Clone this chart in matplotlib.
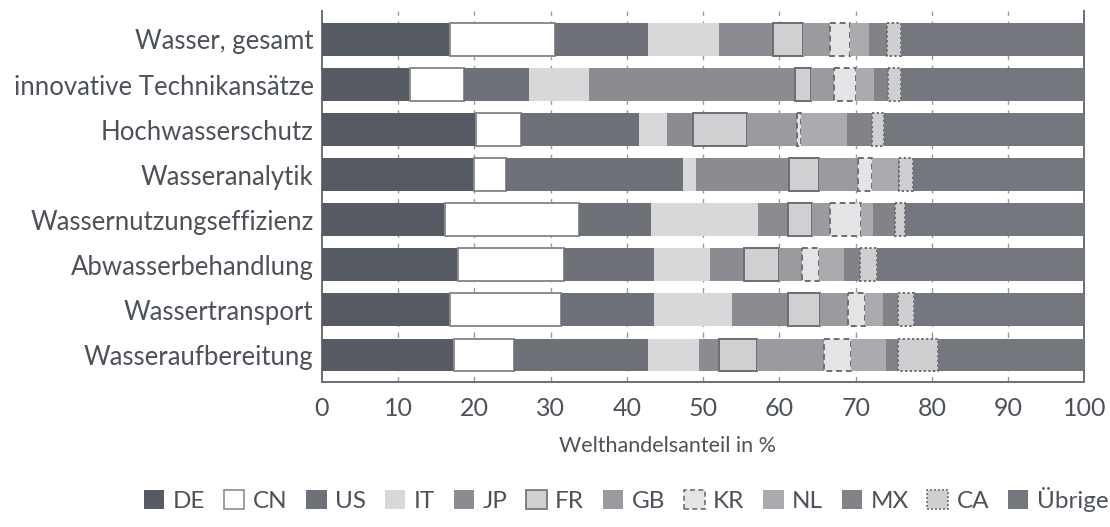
import matplotlib
matplotlib.use("Agg")
import matplotlib.pyplot as plt
from matplotlib.patches import Patch
import numpy as np

plt.rcParams['font.family'] = ['Lato', 'DejaVu Sans']

categories = ["Wasser, gesamt", "innovative Technikansätze", "Hochwasserschutz",
              "Wasseranalytik", "Wassernutzungseffizienz", "Abwasserbehandlung",
              "Wassertransport", "Wasseraufbereitung"]
countries = ["DE", "CN", "US", "IT", "JP", "FR", "GB", "KR", "NL", "MX", "CA", "Übrige"]

# cumulative end positions (%) per country
ends = {
    "Wasser, gesamt":            [16.8, 30.6, 42.7, 52.1, 59.1, 63.1, 66.6, 69.2, 71.8, 74.1, 75.9, 100],
    "innovative Technikansätze": [11.6, 18.6, 27.1, 35.0, 62.0, 64.2, 67.1, 70.0, 72.4, 74.2, 76.0, 100],
    "Hochwasserschutz":          [20.2, 26.1, 41.6, 45.3, 48.6, 55.7, 62.3, 62.8, 68.9, 72.1, 73.7, 100],
    "Wasseranalytik":            [19.9, 24.1, 47.4, 49.0, 61.2, 65.2, 70.3, 72.1, 75.5, 75.7, 77.5, 100],
    "Wassernutzungseffizienz":   [16.1, 33.7, 43.2, 57.2, 61.1, 64.3, 66.6, 70.7, 72.3, 75.2, 76.5, 100],
    "Abwasserbehandlung":        [17.8, 31.8, 43.6, 50.9, 55.4, 60.0, 62.9, 65.2, 68.5, 70.5, 72.8, 100],
    "Wassertransport":           [16.8, 31.4, 43.6, 53.8, 61.1, 65.3, 69.0, 71.2, 73.6, 75.6, 77.6, 100],
    "Wasseraufbereitung":        [17.3, 25.2, 42.8, 49.5, 52.1, 57.0, 65.8, 69.4, 74.0, 75.5, 80.8, 100],
}

faces = ["#555a63", "#ffffff", "#6f7178", "#d8d8da", "#8b8b92", "#d0d0d2",
         "#9a9a9f", "#e4e4e6", "#ababaf", "#818389", "#cfcfd1", "#75777f"]
edges = [None, "#8a8c90", None, None, None, "#6b6e73", None, "#6b6e73", None, None, "#6b6e73", None]
lstyles = ["solid", "solid", "solid", "solid", "solid", "solid", "solid",
           (0, (3, 2)), "solid", "solid", (0, (1.2, 1.2)), "solid"]

txt = "#4d525a"
fig = plt.figure(figsize=(11.1, 5.27), dpi=100)
ax = fig.add_axes([0.290, 0.275, 0.687, 0.704])

y = np.arange(len(categories))
for j, c in enumerate(countries):
    e = np.array([ends[cat][j] for cat in categories])
    s = np.array([ends[cat][j - 1] if j > 0 else 0 for cat in categories])
    w = e - s
    if edges[j] is None:
        ax.barh(y, w, left=s, height=0.73, color=faces[j], linewidth=0, zorder=3)
    else:
        ax.barh(y, w, left=s, height=0.73, facecolor=faces[j], edgecolor=edges[j],
                linewidth=1.4, linestyle=lstyles[j], zorder=3)

ax.set_xlim(0, 100)
ax.set_ylim(7.6, -0.63)
ax.set_yticks(y)
ax.set_yticklabels(categories, fontsize=18.5, color=txt)
ax.set_xticks(np.arange(0, 101, 10))
ax.set_xticklabels([str(v) for v in range(0, 101, 10)], fontsize=18, color=txt)
ax.tick_params(axis='both', length=0, pad=6)
ax.tick_params(axis='x', pad=11)
ax.set_xticks([0, 100], minor=True)
ax.tick_params(axis='x', which='minor', length=9, width=1.3, color="#6b6e73")
for v in range(10, 100, 10):
    ax.axvline(v, color="#9a9a9f", lw=1, ls=(0, (4, 4)), zorder=1)
ax.spines['top'].set_visible(False)
for side in ['left', 'right', 'bottom']:
    ax.spines[side].set_color("#6b6e73")
    ax.spines[side].set_linewidth(1.4)

ax.set_xlabel("Welthandelsanteil in %", fontsize=15.5, color=txt)
ax.xaxis.set_label_coords(0.453, -0.145)

handles = []
for j, c in enumerate(countries):
    handles.append(Patch(facecolor=faces[j], edgecolor=edges[j] if edges[j] else faces[j],
                         linestyle=lstyles[j], linewidth=1.2 if edges[j] else 0, label=c))
leg = fig.legend(handles=handles, loc='center', bbox_to_anchor=(0.564, 0.052), ncol=12,
                 frameon=False, fontsize=17.5, handlelength=0.85, handleheight=0.85,
                 handletextpad=0.35, columnspacing=0.76)
for t in leg.get_texts():
    t.set_color(txt)

fig.savefig("out.png", dpi=100)
